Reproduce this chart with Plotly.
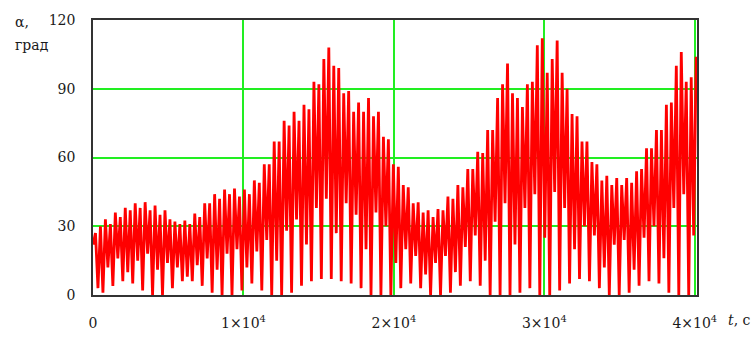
import numpy as np
import plotly.graph_objects as go

# Sampling step of the recorded angle, s
T_STEP = 165

# Local minima of the angle (every 330 s, starting at t = 0), degrees
troughs = [
    22, 3, 1, 12, 4, 16, 6, 10, 5, 15,
    2, 18, 0, 11, 0, 14, 3, 12, 6, 8,
    6, 13, 4, 16, 1, 11, 0, 18, 0, 20,
    2, 12, 5, 19, 2, 24, 0, 15, 0, 28,
    1, 33, 4, 22, 6, 38, 7, 42, 7, 27,
    6, 40, 5, 35, 3, 20, 0, 36, 0, 30,
    0, 14, 3, 20, 5, 17, 3, 9, 0, 14,
    0, 17, 1, 10, 4, 21, 6, 26, 4, 15,
    0, 32, 0, 40, 0, 22, 1, 38, 3, 44,
    0, 25, 0, 45, 2, 38, 5, 20, 7, 30,
    6, 26, 3, 12, 0, 22, 0, 24, 1, 11,
    4, 25, 6, 30, 5, 16, 1, 38, 0, 44,
    0, 26,
]

# Local maxima of the angle (every 330 s, starting at t = 165), degrees
peaks = [
    27, 30, 33, 31, 36, 34, 38, 37, 40, 38,
    40.5, 37, 39, 35, 37, 33, 32, 31, 32.5, 31,
    35.5, 34, 40, 40, 44, 42, 46, 44, 46.5, 43,
    46, 44, 50, 49, 57, 57, 67, 67, 76, 74,
    80, 76, 83, 81, 93, 92, 103, 108, 100, 99,
    88, 89, 80, 84, 80, 86, 78, 80, 69, 68,
    57, 56, 48, 47, 40, 40.5, 36, 37, 34, 37.5,
    37, 43, 42, 48, 47, 55, 55, 62.5, 62, 72,
    72, 86, 92, 101, 88, 86, 82, 92, 93, 109,
    112, 97, 103, 111, 97, 90, 79, 78, 67, 67,
    58, 57, 50, 52, 48, 51, 48, 51, 49, 54,
    55, 64, 64, 72, 72, 83, 84, 100, 106, 93,
    95, 104,
]

# Axis ticks
x_tickvals = [0, 10000, 20000, 30000, 40000]
x_ticktext = ["0", "1×10<sup>4</sup>", "2×10<sup>4</sup>",
              "3×10<sup>4</sup>", "4×10<sup>4</sup>"]
y_tickvals = [0, 30, 60, 90, 120]

# Interleave minima and maxima into one time series
alpha = []
for lo, hi in zip(troughs, peaks):
    alpha.extend([lo, hi])
alpha = np.array(alpha, dtype=float)
t = np.arange(len(alpha)) * T_STEP

SERIF = "DejaVu Serif"
FS = 14
GRID = "#22ee22"
TEXT = "#1a1a1a"

# Plot-area box in page pixels
W, H = 751, 343
ML, MR, MT, MB = 93, 54, 17, 39


def to_paper(px, py):
    return (px - ML) / (W - ML - MR), 1 - (py - MT) / (H - MT - MB)


fig = go.Figure()
fig.add_trace(go.Scatter(
    x=t, y=alpha, mode="lines",
    line=dict(color="#ff0000", width=2.8),
    hoverinfo="skip", showlegend=False,
))

captions = [("α,", 13, 19), ("град", 13, 43), ("<i>t</i>, c", 726, 330)]
annotations = []
for text, px, py in captions:
    ax, ay = to_paper(px, py)
    annotations.append(dict(
        text=text, x=ax, y=ay, xref="paper", yref="paper",
        showarrow=False, xanchor="left", yanchor="middle",
        font=dict(family=SERIF, size=FS, color=TEXT),
    ))

fig.update_layout(
    width=W, height=H,
    margin=dict(l=ML, r=MR, t=MT, b=MB),
    paper_bgcolor="white", plot_bgcolor="white",
    font=dict(family=SERIF, size=FS, color=TEXT),
    xaxis=dict(
        range=[0, 40150], tickvals=x_tickvals, ticktext=x_ticktext,
        tickfont=dict(family=SERIF, size=FS, color=TEXT),
        showgrid=True, gridcolor=GRID, gridwidth=1.5,
        showline=True, linecolor="#333333", linewidth=1.5, mirror=True,
        zeroline=False, ticks="", ticklabelstandoff=14,
    ),
    yaxis=dict(
        range=[0, 120], tickvals=y_tickvals,
        tickfont=dict(family=SERIF, size=FS, color=TEXT),
        showgrid=True, gridcolor=GRID, gridwidth=1.5,
        showline=True, linecolor="#333333", linewidth=1.5, mirror=True,
        zeroline=False, ticks="", ticklabelstandoff=13,
    ),
    annotations=annotations,
)

fig.write_html("out.html")
